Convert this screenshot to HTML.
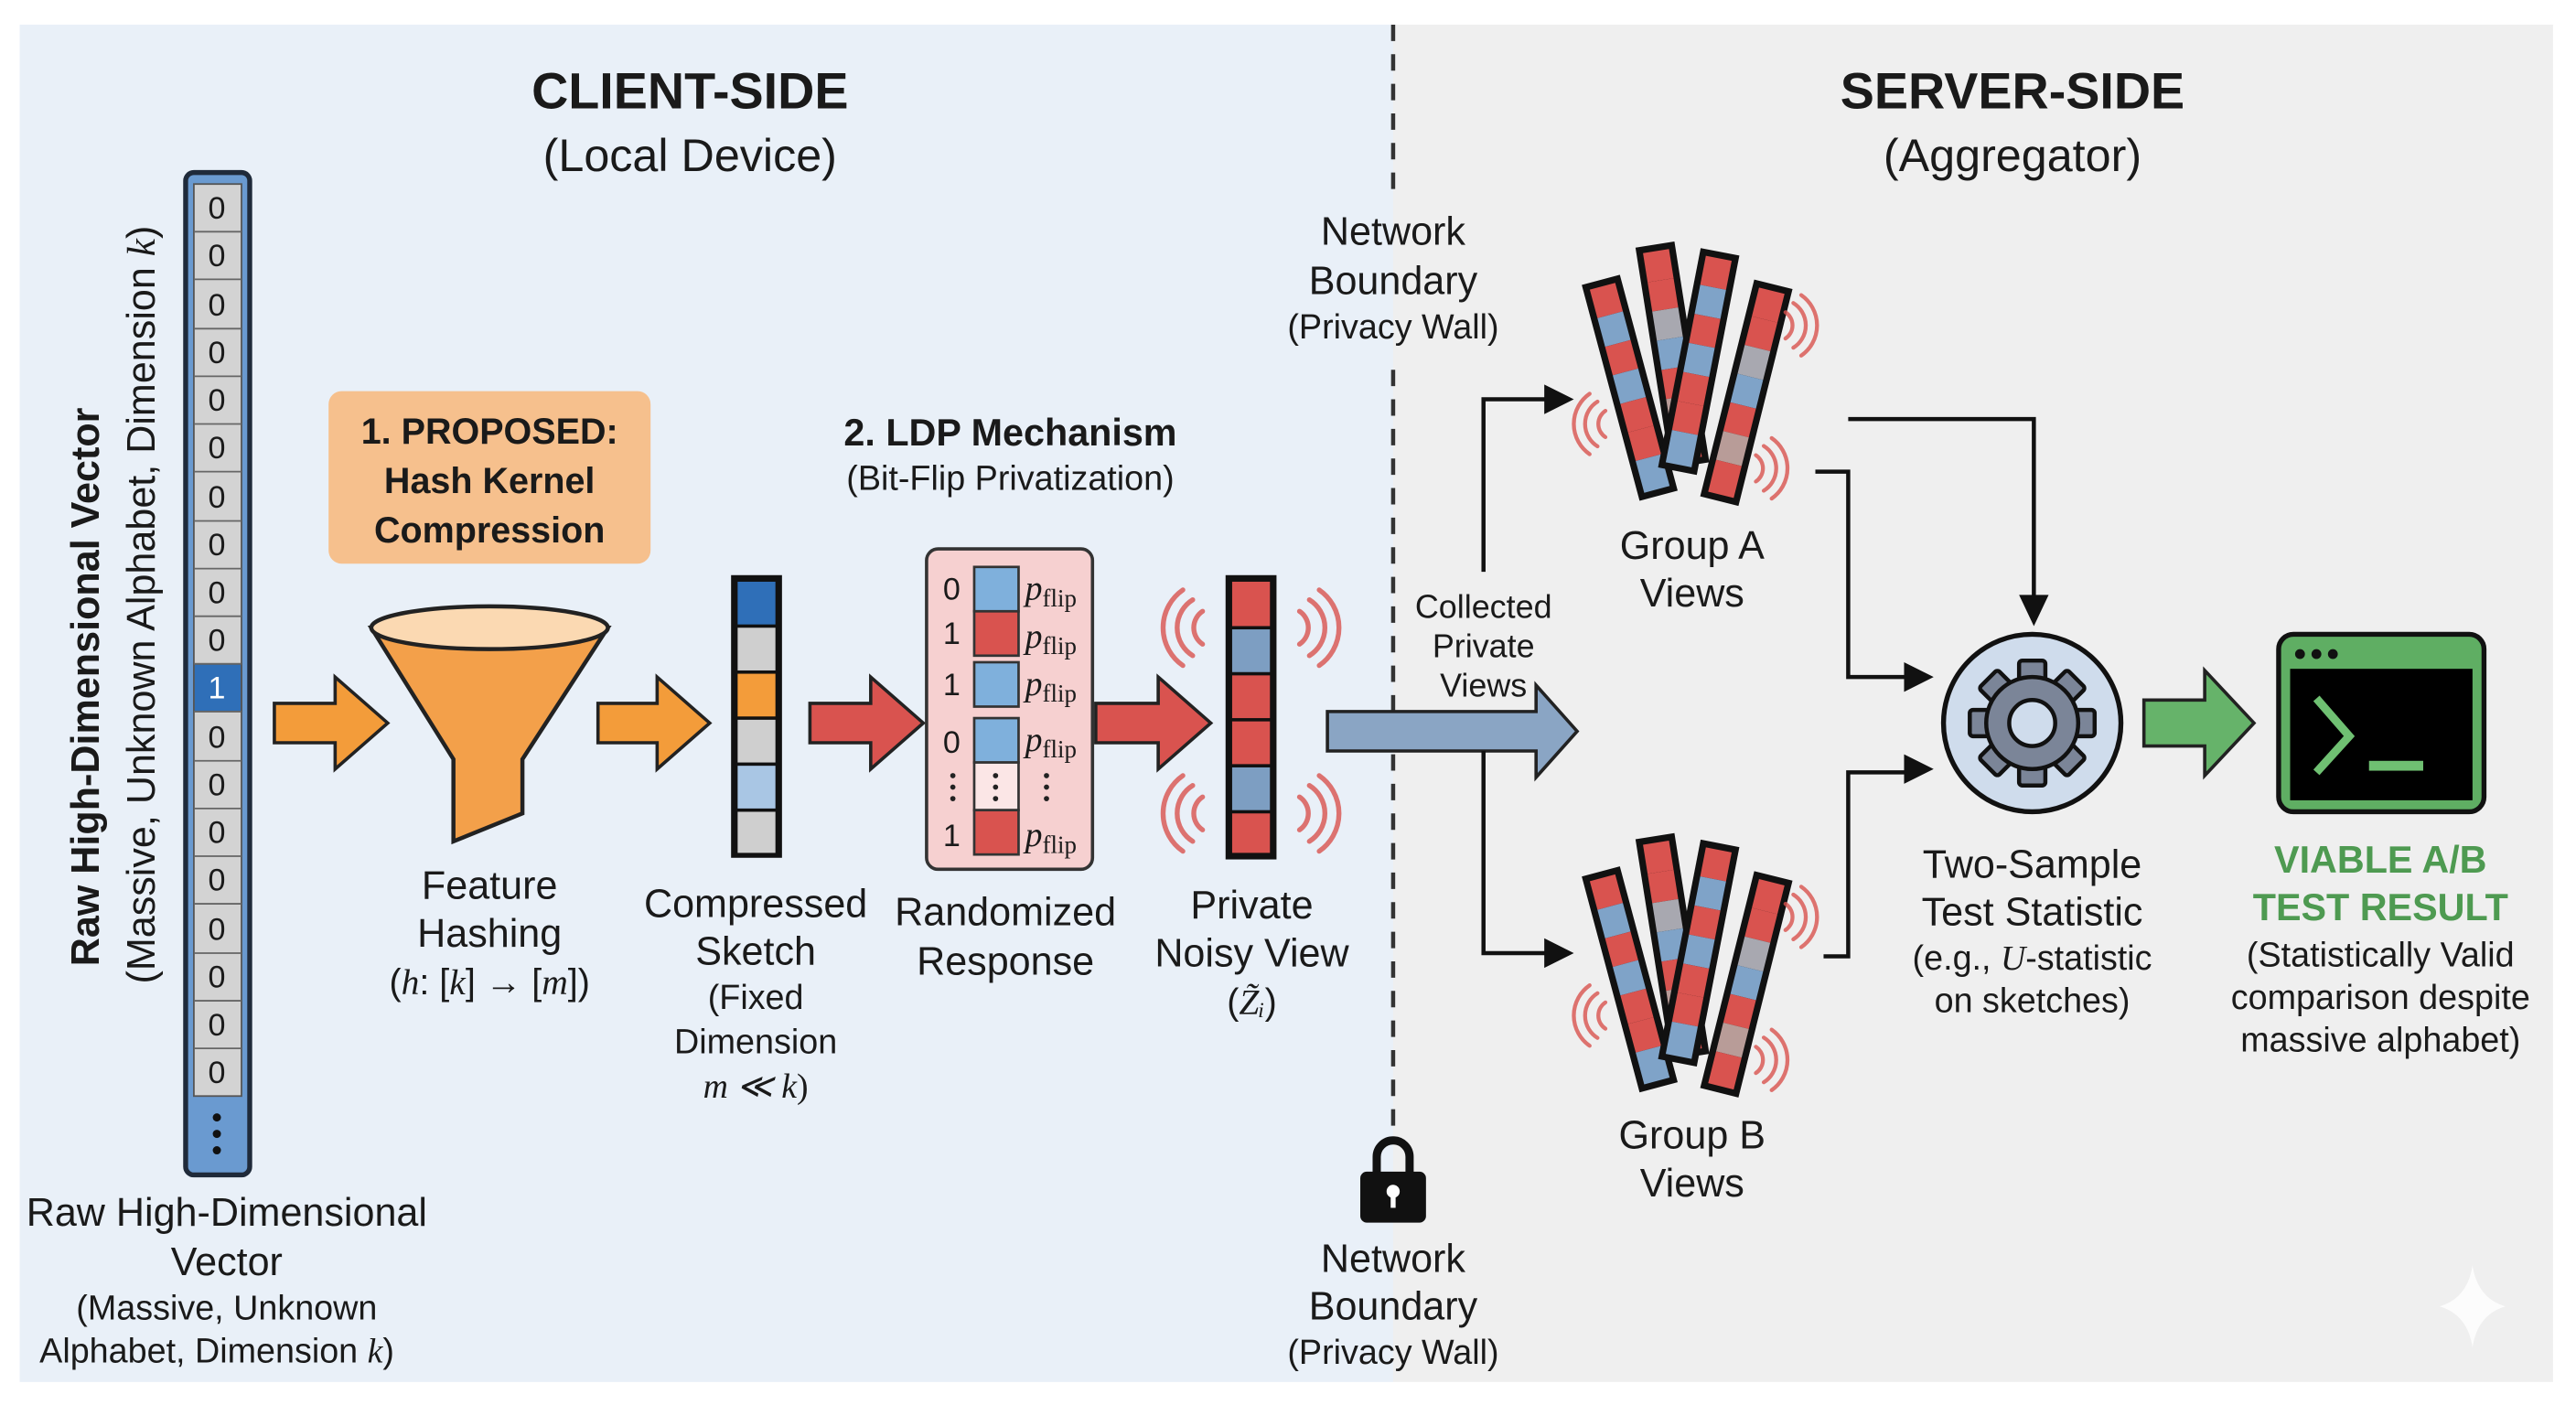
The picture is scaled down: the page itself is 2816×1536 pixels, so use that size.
<!DOCTYPE html>
<html><head><meta charset="utf-8"><style>
html,body{margin:0;padding:0;background:#fff;}
svg{display:block;}
text{font-family:"Liberation Sans",sans-serif;fill:#1a1a1a;}
.m{font-family:"Liberation Serif",serif;font-style:italic;}
</style></head><body>
<svg width="2816" height="1536" viewBox="0 0 1568 855" preserveAspectRatio="none" xmlns="http://www.w3.org/2000/svg">
<defs>
<g id="bar">
<rect x="-12" y="-68" width="24" height="136" fill="#111"/>
<rect x="-8" y="-64" width="16" height="18" fill="#d9534f"/>
<rect x="-8" y="-46" width="16" height="18" fill="#7fa3c8"/>
<rect x="-8" y="-28" width="16" height="18" fill="#d9534f"/>
<rect x="-8" y="-10" width="16" height="18" fill="#7fa3c8"/>
<rect x="-8" y="8" width="16" height="18" fill="#d9534f"/>
<rect x="-8" y="26" width="16" height="18" fill="#d9534f"/>
<rect x="-8" y="44" width="16" height="20" fill="#7fa3c8"/>
</g>
<g id="barb">
<rect x="-12" y="-68" width="24" height="136" fill="#111"/>
<rect x="-8" y="-64" width="16" height="18" fill="#d9534f"/>
<rect x="-8" y="-46" width="16" height="18" fill="#d9534f"/>
<rect x="-8" y="-28" width="16" height="18" fill="#a8a8b0"/>
<rect x="-8" y="-10" width="16" height="18" fill="#7fa3c8"/>
<rect x="-8" y="8" width="16" height="18" fill="#d9534f"/>
<rect x="-8" y="26" width="16" height="18" fill="#b89c98"/>
<rect x="-8" y="44" width="16" height="20" fill="#d9534f"/>
</g>
<g id="wl" fill="none" stroke="#d9534f" stroke-width="3" opacity="0.8" stroke-linecap="round">
<path d="M-6,-10 A12,12 0 0 0 -6,10"/><path d="M-12,-17 A20,20 0 0 0 -12,17"/><path d="M-18,-23 A28,28 0 0 0 -18,23"/>
</g>
<g id="wr" fill="none" stroke="#d9534f" stroke-width="3" opacity="0.8" stroke-linecap="round">
<path d="M6,-10 A12,12 0 0 1 6,10"/><path d="M12,-17 A20,20 0 0 1 12,17"/><path d="M18,-23 A28,28 0 0 1 18,23"/>
</g>
<g id="fan">
<use href="#bar" transform="translate(992,236) rotate(-15)"/>
<use href="#barb" transform="translate(1018,216) rotate(-9)"/>
<use href="#bar" transform="translate(1034,220) rotate(11)"/>
<use href="#barb" transform="translate(1063,239) rotate(14)"/>
<use href="#wl" transform="translate(982,258) scale(0.8)"/>
<use href="#wr" transform="translate(1082,198) scale(0.8)"/>
<use href="#wr" transform="translate(1064,285) scale(0.8)"/>
</g>
</defs>
<rect x="0" y="0" width="1568" height="855" fill="#fff"/>
<rect x="12" y="15" width="836" height="826" fill="#e9f0f8"/>
<rect x="848" y="15" width="706" height="826" fill="#efefef"/>
<line x1="848" y1="15" x2="848" y2="122" stroke="#333" stroke-width="2.5" stroke-dasharray="10,8"/>
<line x1="848" y1="225" x2="848" y2="690" stroke="#333" stroke-width="2.5" stroke-dasharray="10,8"/>

<text x="420" y="66" font-size="31" font-weight="bold" text-anchor="middle">CLIENT-SIDE</text>
<text x="420" y="104" font-size="28" text-anchor="middle">(Local Device)</text>
<text x="1225" y="66" font-size="31" font-weight="bold" text-anchor="middle">SERVER-SIDE</text>
<text x="1225" y="104" font-size="28" text-anchor="middle">(Aggregator)</text>

<text transform="translate(60,418) rotate(-90)" font-size="24" font-weight="bold" text-anchor="middle">Raw High-Dimensional Vector</text>
<text transform="translate(94,368) rotate(-90)" font-size="24" text-anchor="middle">(Massive, Unknown Alphabet, Dimension <tspan class="m">k</tspan>)</text>

<rect x="113" y="105" width="39" height="610" rx="5" fill="#6a9ad0" stroke="#1f2a3a" stroke-width="3"/>
<g stroke="#555" stroke-width="1">
<rect x="118" y="112" width="29" height="555" fill="#d3d3d3"/>
<rect x="118" y="404" width="29" height="29" fill="#2f6fb8"/>
</g>
<g stroke="#666" stroke-width="1">
<path d="M118,141H147M118,170H147M118,200H147M118,229H147M118,258H147M118,287H147M118,317H147M118,346H147M118,375H147M118,404H147M118,433H147M118,463H147M118,492H147M118,521H147M118,550H147M118,580H147M118,609H147M118,638H147"/>
</g>
<g font-size="19" text-anchor="middle">
<text x="132" y="133" fill="#444">0</text><text x="132" y="162" fill="#444">0</text><text x="132" y="192" fill="#444">0</text><text x="132" y="221" fill="#444">0</text><text x="132" y="250" fill="#444">0</text><text x="132" y="279" fill="#444">0</text><text x="132" y="309" fill="#444">0</text><text x="132" y="338" fill="#444">0</text><text x="132" y="367" fill="#444">0</text><text x="132" y="396" fill="#444">0</text>
<text x="132" y="425" style="fill:#fff">1</text>
<text x="132" y="455" fill="#444">0</text><text x="132" y="484" fill="#444">0</text><text x="132" y="513" fill="#444">0</text><text x="132" y="542" fill="#444">0</text><text x="132" y="572" fill="#444">0</text><text x="132" y="601" fill="#444">0</text><text x="132" y="630" fill="#444">0</text><text x="132" y="659" fill="#444">0</text>
</g>
<g fill="#111"><circle cx="132" cy="680" r="2.5"/><circle cx="132" cy="690" r="2.5"/><circle cx="132" cy="700" r="2.5"/></g>
<g font-size="24" text-anchor="middle">
<text x="138" y="746">Raw High-Dimensional</text>
<text x="138" y="776">Vector</text>
</g>
<g font-size="21" text-anchor="middle">
<text x="138" y="803">(Massive, Unknown</text>
<text x="132" y="829">Alphabet, Dimension <tspan class="m">k</tspan>)</text>
</g>

<rect x="200" y="238" width="196" height="105" rx="8" fill="#f6c08d"/>
<g font-size="22" font-weight="bold" text-anchor="middle">
<text x="298" y="270">1. PROPOSED:</text>
<text x="298" y="300">Hash Kernel</text>
<text x="298" y="330">Compression</text>
</g>

<path d="M167,428H204V412L236,440L204,468V452H167Z" fill="#f39c3a" stroke="#222" stroke-width="2"/>
<path d="M364,428H400V412L432,440L400,468V452H364Z" fill="#f39c3a" stroke="#222" stroke-width="2"/>

<path d="M226,382 L276,462 L276,512 L318,495 L318,462 L370,382 Z" fill="#f3a04a" stroke="#222" stroke-width="2.5"/>
<ellipse cx="298" cy="382" rx="72" ry="13" fill="#fbd9b2" stroke="#222" stroke-width="2.5"/>
<g font-size="24" text-anchor="middle">
<text x="298" y="547">Feature</text>
<text x="298" y="576">Hashing</text>
</g>
<text x="298" y="605" font-size="22" text-anchor="middle">(<tspan class="m">h</tspan>: [<tspan class="m">k</tspan>] → [<tspan class="m">m</tspan>])</text>

<rect x="445" y="350" width="31" height="172" fill="#111"/>
<rect x="449" y="354" width="23" height="26" fill="#2f6fb8"/>
<rect x="449" y="382" width="23" height="26" fill="#cfcfcf"/>
<rect x="449" y="410" width="23" height="26" fill="#f39c3a"/>
<rect x="449" y="438" width="23" height="26" fill="#cfcfcf"/>
<rect x="449" y="466" width="23" height="26" fill="#a9c6e4"/>
<rect x="449" y="494" width="23" height="25" fill="#cfcfcf"/>
<g font-size="24" text-anchor="middle">
<text x="460" y="558">Compressed</text>
<text x="460" y="587">Sketch</text>
</g>
<g font-size="21" text-anchor="middle">
<text x="460" y="614">(Fixed</text>
<text x="460" y="641">Dimension</text>
<text x="460" y="668" class="m">m ≪ k<tspan style="font-style:normal">)</tspan></text>
</g>

<path d="M493,428H530V412L562,440L530,468V452H493Z" fill="#d9534f" stroke="#222" stroke-width="2"/>
<path d="M667,428H705V412L737,440L705,468V452H667Z" fill="#d9534f" stroke="#222" stroke-width="2"/>

<text x="615" y="271" font-size="23" font-weight="bold" text-anchor="middle">2. LDP Mechanism</text>
<text x="615" y="298" font-size="21" text-anchor="middle">(Bit-Flip Privatization)</text>
<rect x="564" y="334" width="101" height="195" rx="7" fill="#f6d0d0" stroke="#333" stroke-width="2"/>
<g stroke="#333" stroke-width="1.5">
<rect x="593" y="345" width="27" height="27" fill="#7fb0dc"/>
<rect x="593" y="372" width="27" height="27" fill="#d9534f"/>
<rect x="593" y="403" width="27" height="27" fill="#7fb0dc"/>
<rect x="593" y="437" width="27" height="27" fill="#7fb0dc"/>
<rect x="593" y="464" width="27" height="29" fill="#fbe6e6"/>
<rect x="593" y="493" width="27" height="27" fill="#d9534f"/>
</g>
<g font-size="19" fill="#222">
<text x="574" y="365">0</text><text x="574" y="392">1</text><text x="574" y="423">1</text><text x="574" y="458">0</text><text x="574" y="515">1</text>
</g>
<g font-size="21">
<text x="624" y="365" class="m">p<tspan font-size="15" style="font-style:normal" dy="4">flip</tspan></text>
<text x="624" y="394" class="m">p<tspan font-size="15" style="font-style:normal" dy="4">flip</tspan></text>
<text x="624" y="423" class="m">p<tspan font-size="15" style="font-style:normal" dy="4">flip</tspan></text>
<text x="624" y="457" class="m">p<tspan font-size="15" style="font-style:normal" dy="4">flip</tspan></text>
<text x="624" y="515" class="m">p<tspan font-size="15" style="font-style:normal" dy="4">flip</tspan></text>
</g>
<g fill="#222"><circle cx="580" cy="472" r="1.6"/><circle cx="580" cy="479" r="1.6"/><circle cx="580" cy="486" r="1.6"/>
<circle cx="606" cy="472" r="1.6"/><circle cx="606" cy="479" r="1.6"/><circle cx="606" cy="486" r="1.6"/>
<circle cx="637" cy="472" r="1.6"/><circle cx="637" cy="479" r="1.6"/><circle cx="637" cy="486" r="1.6"/></g>
<g font-size="24" text-anchor="middle">
<text x="612" y="563">Randomized</text>
<text x="612" y="593">Response</text>
</g>

<rect x="746" y="350" width="31" height="173" fill="#111"/>
<rect x="750" y="354" width="23" height="27" fill="#d9534f"/>
<rect x="750" y="383" width="23" height="26" fill="#7d9ec2"/>
<rect x="750" y="411" width="23" height="26" fill="#d9534f"/>
<rect x="750" y="439" width="23" height="26" fill="#d9534f"/>
<rect x="750" y="467" width="23" height="26" fill="#7d9ec2"/>
<rect x="750" y="495" width="23" height="24" fill="#d9534f"/>
<use href="#wl" transform="translate(738,382)"/>
<use href="#wr" transform="translate(785,382)"/>
<use href="#wl" transform="translate(738,495)"/>
<use href="#wr" transform="translate(785,495)"/>
<g font-size="24" text-anchor="middle">
<text x="762" y="559">Private</text>
<text x="762" y="588">Noisy View</text>
</g>
<text x="762" y="617" font-size="22" text-anchor="middle">(<tspan class="m">Z̃ᵢ</tspan>)</text>

<g text-anchor="middle">
<text x="848" y="149" font-size="24">Network</text>
<text x="848" y="179" font-size="24">Boundary</text>
<text x="848" y="206" font-size="21">(Privacy Wall)</text>
<text x="848" y="774" font-size="24">Network</text>
<text x="848" y="803" font-size="24">Boundary</text>
<text x="848" y="830" font-size="21">(Privacy Wall)</text>
</g>
<path d="M838,714 V704 A10,10 0 0 1 858,704 V714" fill="none" stroke="#111" stroke-width="5"/>
<rect x="828" y="713" width="40" height="31" rx="4" fill="#111"/>
<circle cx="848" cy="725" r="4" fill="#fff"/><rect x="846.5" y="726" width="3" height="9" fill="#fff"/>

<path d="M808,433H935V417L960,445L935,473V457H808Z" fill="#8aa5c4" stroke="#222" stroke-width="2"/>
<g font-size="20" text-anchor="middle">
<text x="903" y="376">Collected</text>
<text x="903" y="400">Private</text>
<text x="903" y="424">Views</text>
</g>

<g fill="none" stroke="#111" stroke-width="2.5">
<path d="M903,348 V243 H945"/>
<path d="M903,457 V580 H945"/>
<path d="M1125,255 H1238 V370"/>
<path d="M1105,287 H1125 V412 H1165"/>
<path d="M1110,582 H1125 V470 H1165"/>
</g>
<g fill="#111">
<path d="M958,243 L940,234 L940,252Z"/>
<path d="M958,580 L940,571 L940,589Z"/>
<path d="M1238,381 L1229,362 L1247,362Z"/>
<path d="M1177,412 L1159,403 L1159,421Z"/>
<path d="M1177,468 L1159,459 L1159,477Z"/>
</g>

<use href="#fan"/>
<use href="#fan" transform="translate(0,360)"/>
<g font-size="24" text-anchor="middle">
<text x="1030" y="340">Group A</text>
<text x="1030" y="369">Views</text>
<text x="1030" y="699">Group B</text>
<text x="1030" y="728">Views</text>
</g>

<circle cx="1237" cy="440" r="54" fill="#cfdcec" stroke="#111" stroke-width="3"/>
<g transform="translate(1237,440)" fill="#7b8598" stroke="#111" stroke-width="2.5">
<rect x="-8" y="-38" width="16" height="14" rx="2"/>
<rect x="-8" y="-38" width="16" height="14" rx="2" transform="rotate(45)"/>
<rect x="-8" y="-38" width="16" height="14" rx="2" transform="rotate(90)"/>
<rect x="-8" y="-38" width="16" height="14" rx="2" transform="rotate(135)"/>
<rect x="-8" y="-38" width="16" height="14" rx="2" transform="rotate(180)"/>
<rect x="-8" y="-38" width="16" height="14" rx="2" transform="rotate(225)"/>
<rect x="-8" y="-38" width="16" height="14" rx="2" transform="rotate(270)"/>
<rect x="-8" y="-38" width="16" height="14" rx="2" transform="rotate(315)"/>
<circle r="28"/>
<circle r="14" fill="#cfdcec"/>
</g>
<g font-size="24" text-anchor="middle">
<text x="1237" y="534">Two-Sample</text>
<text x="1237" y="563">Test Statistic</text>
</g>
<g font-size="21" text-anchor="middle">
<text x="1237" y="590">(e.g., <tspan class="m">U</tspan>-statistic</text>
<text x="1237" y="616">on sketches)</text>
</g>

<path d="M1305,426H1342V408L1372,440L1342,472V454H1305Z" fill="#66b36a" stroke="#222" stroke-width="2"/>
<rect x="1387" y="386" width="125" height="108" rx="9" fill="#5fae63" stroke="#111" stroke-width="3"/>
<rect x="1394" y="407" width="111" height="80" fill="#000"/>
<g fill="#111"><circle cx="1400" cy="398" r="3"/><circle cx="1410" cy="398" r="3"/><circle cx="1420" cy="398" r="3"/></g>
<path d="M1410,425 L1430,448 L1410,470" fill="none" stroke="#6fc072" stroke-width="5"/>
<rect x="1442" y="463" width="33" height="6" fill="#6fc072"/>
<g font-size="23" font-weight="bold" text-anchor="middle">
<text x="1449" y="531" style="fill:#4e9a51">VIABLE A/B</text>
<text x="1449" y="560" style="fill:#4e9a51">TEST RESULT</text>
</g>
<g font-size="21" text-anchor="middle">
<text x="1449" y="588">(Statistically Valid</text>
<text x="1449" y="614">comparison despite</text>
<text x="1449" y="640">massive alphabet)</text>
</g>
<path d="M1505,770 Q1508,790 1525,795 Q1508,800 1505,820 Q1502,800 1485,795 Q1502,790 1505,770Z" fill="#fff" opacity="0.8"/>
</svg>
</body></html>
